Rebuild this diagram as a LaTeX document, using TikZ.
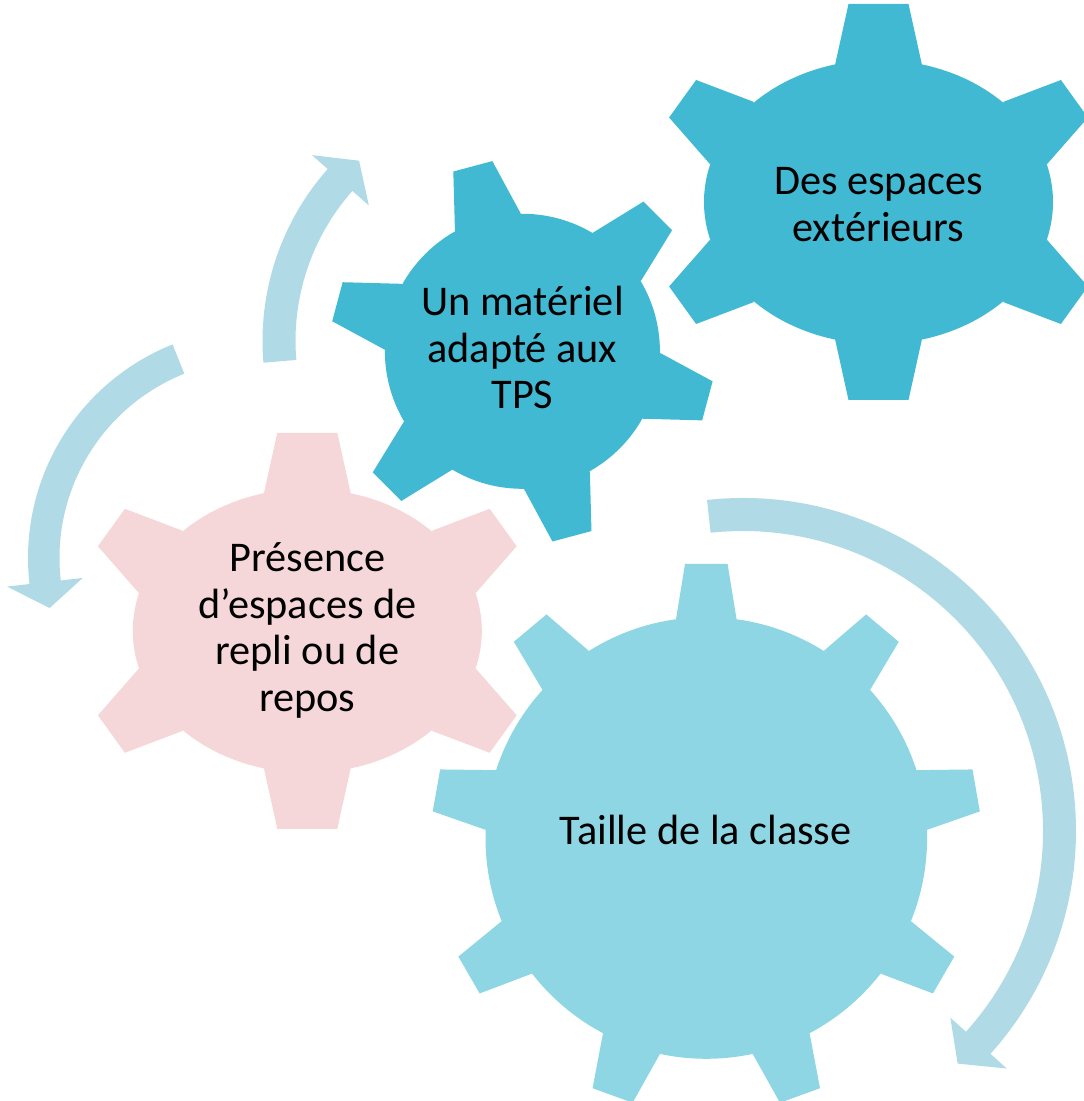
\documentclass[tikz,border=0pt]{standalone}
\usepackage{fontspec}
\setmainfont{Carlito}
\usetikzlibrary{calc}
\definecolor{arrowc}{RGB}{176,218,229}
\definecolor{gearlight}{RGB}{142,214,227}
\definecolor{geardark}{RGB}{66,185,211}
\definecolor{gearpink}{RGB}{246,215,217}
\tikzset{
  lbl/.style={align=center, font=\fontsize{42.3}{46.5}\selectfont, inner sep=0pt, text=black},
  pics/egear/.style={code={
    \fill[#1] (0,0) ellipse[x radius=174.5, y radius=142];
    \foreach \sy in {1,-1}{
      \fill[#1, yscale=\sy] (-43.5,137) -- (-30,198) -- (30,198) -- (43.5,137) -- cycle;
      \foreach \sx in {1,-1}{
        \fill[#1, xscale=\sx, yscale=\sy] (124.5,100) -- (182.4,122) -- (209.4,84.5) -- (168.4,37.7) -- cycle;
      }
    }
  }}
}
\begin{document}
\begin{tikzpicture}[x=1pt,y=1pt]
\useasboundingbox (0,0) rectangle (1084,1101);

% ---- circular arrows ----
\coordinate (aTL) at (522,760);
\fill[arrowc] ($(aTL)+(184.8:259.5)$) arc[start angle=184.8, end angle=138.5, radius=259.5]
  -- ($(aTL)+(138.5:280.5)$) -- ($(aTL)+(132.1:243)$) -- ($(aTL)+(138.5:204.5)$)
  -- ($(aTL)+(138.5:226.5)$) arc[start angle=138.5, end angle=184.8, radius=226.5] -- cycle;

\coordinate (aL) at (258,543);
\fill[arrowc] ($(aL)+(111.8:230)$) arc[start angle=111.8, end angle=186.5, radius=230]
  -- ($(aL)+(186.5:252.6)$) -- ($(aL)+(193.5:214.3)$) -- ($(aL)+(186.5:176.4)$)
  -- ($(aL)+(186.5:198.5)$) arc[start angle=186.5, end angle=111.8, radius=198.5] -- cycle;

\coordinate (aR) at (743,270);
\fill[arrowc] ($(aR)+(96.2:333)$) arc[start angle=96.2, end angle=-42, radius=333]
  -- ($(aR)+(-42:355)$) -- ($(aR)+(-47.3:316.5)$) -- ($(aR)+(-42:279)$)
  -- ($(aR)+(-42:300)$) arc[start angle=-42, end angle=96.2, radius=300] -- cycle;

% ---- gears ----
% big gear: Taille de la classe
\coordinate (gT) at (706.3,263);
\fill[gearlight] (gT) circle[radius=220.8];
\foreach \a in {90,130,...,410}{
  \fill[gearlight, shift={(gT)}, rotate=\a-90] (-30.3,218.7) -- (-21.3,274) -- (21.3,274) -- (30.3,218.7) -- cycle;
}

% rotated gear: Un materiel
\coordinate (gU) at (522.4,749.7);
\fill[geardark] (gU) circle[radius=137.5];
\foreach \a in {105,165,...,405}{
  \fill[geardark, shift={(gU)}, rotate=\a-90] (-34.1,133.3) -- (-20.2,191.5) -- (20.2,191.5) -- (34.1,133.3) -- cycle;
}

% elliptic gears
\pic at (878.5,899) {egear=geardark};
\pic at (307.3,470.2) {egear=gearpink};

% ---- labels (base = baseline of last line) ----
\node[lbl, anchor=base] (tDes) at (878.5,859.5) {Des espaces\\extérieurs};
\node[lbl, anchor=base] (tMat) at (522.4,692.3) {Un matériel\\adapté aux\\TPS};
\node[lbl, anchor=base] (tPre) at (307.3,389.8) {Présence\\d’espaces de\\repli ou de\\repos};
\node[lbl, anchor=base] (tTai) at (705.8,256.7) {Taille de la classe};
\end{tikzpicture}
\end{document}
